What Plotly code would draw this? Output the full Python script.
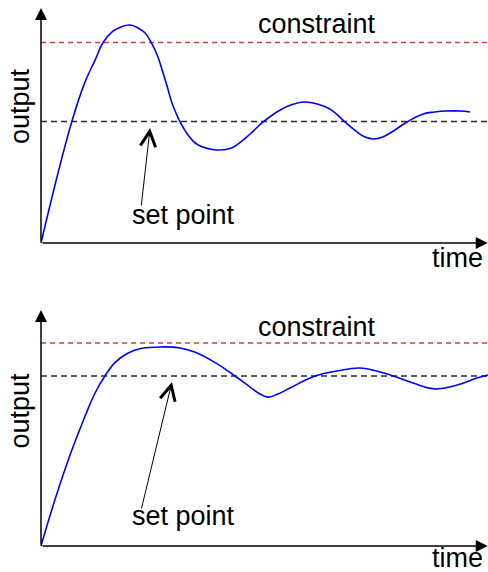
import plotly.graph_objects as go

W, H = 488, 572
FONT = "Liberation Sans, Arial, Helvetica, sans-serif"
TEXT_SIZE = 27

# ---- data -------------------------------------------------------------
T_END = 10.0
SET_POINT = 1.0

# upper panel: aggressive tuning, the output overshoots past the constraint
top_time = [0.0, 0.69, 0.98, 1.21, 1.39, 1.59, 1.79, 1.99, 2.17, 2.33, 2.46,
            2.60, 2.71, 2.82, 2.93, 3.02, 3.11, 3.29, 3.45, 3.62, 3.83, 4.00,
            4.23, 4.38, 4.68, 4.97, 5.35, 5.62, 5.86, 6.09, 6.31, 6.53, 6.80,
            7.07, 7.25, 7.43, 7.61, 7.81, 8.19, 8.55, 8.81, 9.08, 9.37, 9.60]
top_output = [0.0, 1.0, 1.32, 1.505, 1.65, 1.737, 1.778, 1.794, 1.770, 1.728,
              1.654, 1.547, 1.424, 1.292, 1.152, 1.070, 0.996, 0.889, 0.823,
              0.790, 0.770, 0.765, 0.777, 0.807, 0.897, 0.996, 1.095, 1.140,
              1.160, 1.152, 1.128, 1.086, 0.996, 0.914, 0.872, 0.856, 0.868,
              0.905, 0.996, 1.062, 1.078, 1.086, 1.086, 1.078]
top_constraint = 1.65
top_ymax = 1.934

# lower panel: overshoot kept below the constraint
bottom_time = [0.0, 0.31, 0.67, 0.98, 1.21, 1.43, 1.66, 1.95, 2.21, 2.71, 3.11,
               3.45, 3.89, 4.34, 4.68, 4.90, 5.08, 5.30, 5.57, 6.13, 6.62, 7.14,
               7.58, 7.88, 8.32, 8.81, 9.31, 9.75, 10.0]
bottom_output = [0.0, 0.27, 0.55, 0.76, 0.90, 1.0, 1.08, 1.135, 1.16, 1.171,
                 1.165, 1.14, 1.08, 1.0, 0.935, 0.894, 0.876, 0.894, 0.929, 1.0,
                 1.029, 1.047, 1.024, 1.0, 0.959, 0.924, 0.947, 0.988, 1.006]
bottom_constraint = 1.194
bottom_ymax = 1.388

# ---- layout helpers -----------------------------------------------------
X_AXIS_PX, X_SCALE = 41, 44.7          # pixel of t=0, pixels per time unit
X_LO = -0.1


def ydomain(axis_px, scale, lo, hi):
    return [1 - (axis_px - lo * scale) / H, 1 - (axis_px - hi * scale) / H]


def px(x):
    return x / W


def py(y):
    return 1 - y / H


Y_LO = -0.05
panels = [
    dict(t=top_time, y=top_output, c=top_constraint, ymax=top_ymax,
         axis_px=243, scale=121.5, xa="x", ya="y",
         arrow_tail=(2.24, 0.296), arrow_tip=(2.44, 0.947),
         output_c=106.5, time_c=257.6, cons_c=23.6, sp_c=214.6),
    dict(t=bottom_time, y=bottom_output, c=bottom_constraint, ymax=bottom_ymax,
         axis_px=546, scale=170.0, xa="x2", ya="y2",
         arrow_tail=(2.24, 0.212), arrow_tip=(2.93, 0.965),
         output_c=411, time_c=557.5, cons_c=326.6, sp_c=515.6),
]

fig = go.Figure()
annotations = []
layout_axes = {}

for i, p in enumerate(panels):
    # constraint and set point reference lines
    fig.add_trace(go.Scatter(x=[0, T_END], y=[p["c"], p["c"]], mode="lines",
                             line=dict(color="#d83a3a", width=1.4, dash="5px,4px"),
                             xaxis=p["xa"], yaxis=p["ya"], hoverinfo="skip"))
    fig.add_trace(go.Scatter(x=[0, T_END], y=[SET_POINT, SET_POINT], mode="lines",
                             line=dict(color="#2a2a2a", width=1.4, dash="6px,4px"),
                             xaxis=p["xa"], yaxis=p["ya"], hoverinfo="skip"))
    # process output
    fig.add_trace(go.Scatter(x=p["t"], y=p["y"], mode="lines",
                             line=dict(color="#0000ff", width=1.6, shape="spline",
                                       smoothing=1.3),
                             xaxis=p["xa"], yaxis=p["ya"], hoverinfo="skip"))

    suffix = "" if i == 0 else "2"
    layout_axes["xaxis" + suffix] = dict(
        domain=[(X_AXIS_PX + X_LO * X_SCALE) / W, 1.0],
        range=[X_LO, T_END], visible=False, fixedrange=True,
        anchor="y" + suffix)
    yhi = p["ymax"] + 0.03
    layout_axes["yaxis" + suffix] = dict(
        domain=ydomain(p["axis_px"], p["scale"], Y_LO, yhi),
        range=[Y_LO, yhi], visible=False, fixedrange=True,
        anchor="x" + suffix)

    ref = dict(xref=p["xa"], yref=p["ya"], axref=p["xa"], ayref=p["ya"])
    # axes drawn as arrows
    annotations.append(dict(x=T_END - 0.005, y=0, ax=0, ay=0, text="",
                            showarrow=True, arrowhead=2, arrowsize=1.6,
                            arrowwidth=1.5, arrowcolor="black",
                            font=dict(size=1), **ref))
    annotations.append(dict(x=0, y=p["ymax"], ax=0, ay=0, text="",
                            showarrow=True, arrowhead=2, arrowsize=1.6,
                            arrowwidth=1.5, arrowcolor="black",
                            font=dict(size=1), **ref))
    # pointer to the set point line
    annotations.append(dict(x=p["arrow_tip"][0], y=p["arrow_tip"][1],
                            ax=p["arrow_tail"][0], ay=p["arrow_tail"][1],
                            text="", showarrow=True, arrowhead=5, arrowsize=3,
                            arrowwidth=1, arrowcolor="black",
                            font=dict(size=1), **ref))

    txt = dict(xref="paper", yref="paper", showarrow=False,
               font=dict(family=FONT, size=TEXT_SIZE, color="black"),
               xanchor="center", yanchor="middle")
    annotations.append(dict(text="output", x=px(19.6), y=py(p["output_c"]),
                            textangle=-90, **txt))
    annotations.append(dict(text="time", x=px(457.5), y=py(p["time_c"]), **txt))
    annotations.append(dict(text="constraint", x=px(317), y=py(p["cons_c"]), **txt))
    annotations.append(dict(text="set point", x=px(183.5), y=py(p["sp_c"]), **txt))

fig.update_layout(
    width=W, height=H,
    margin=dict(l=0, r=0, t=0, b=0),
    paper_bgcolor="white", plot_bgcolor="white",
    showlegend=False,
    annotations=annotations,
    **layout_axes,
)

fig.write_html("out.html", config={"displayModeBar": False})
